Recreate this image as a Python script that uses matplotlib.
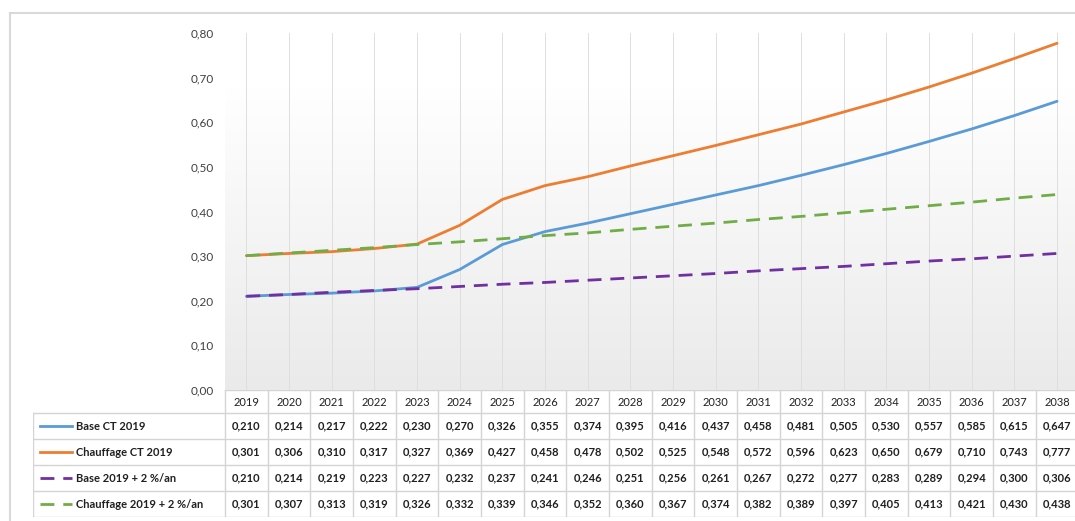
import numpy as np
import matplotlib
matplotlib.use("Agg")
import matplotlib.pyplot as plt
from matplotlib.colors import LinearSegmentedColormap

# ----------------------------
# Data (read from the data table)
# ----------------------------
years = [str(y) for y in range(2019, 2039)]

base_ct = [0.210, 0.214, 0.217, 0.222, 0.230, 0.270, 0.326, 0.355, 0.374, 0.395,
           0.416, 0.437, 0.458, 0.481, 0.505, 0.530, 0.557, 0.585, 0.615, 0.647]
chauffage_ct = [0.301, 0.306, 0.310, 0.317, 0.327, 0.369, 0.427, 0.458, 0.478, 0.502,
                0.525, 0.548, 0.572, 0.596, 0.623, 0.650, 0.679, 0.710, 0.743, 0.777]
base_2pct = [0.210, 0.214, 0.219, 0.223, 0.227, 0.232, 0.237, 0.241, 0.246, 0.251,
             0.256, 0.261, 0.267, 0.272, 0.277, 0.283, 0.289, 0.294, 0.300, 0.306]
chauffage_2pct = [0.301, 0.307, 0.313, 0.319, 0.326, 0.332, 0.339, 0.346, 0.352, 0.360,
                  0.367, 0.374, 0.382, 0.389, 0.397, 0.405, 0.413, 0.421, 0.430, 0.438]

series_labels = ["Base CT 2019", "Chauffage CT 2019",
                 "Base 2019 + 2 %/an", "Chauffage 2019 + 2 %/an"]
series_values = [base_ct, chauffage_ct, base_2pct, chauffage_2pct]
series_colors = ["#5B9BD5", "#ED7D31", "#7030A0", "#70AD47"]
series_styles = ["-", "-", (0, (5, 3.2)), (0, (5, 3.2))]

y_ticks = [0.0, 0.1, 0.2, 0.3, 0.4, 0.5, 0.6, 0.7, 0.8]

plt.rcParams['font.family'] = ['Lato', 'DejaVu Sans']

# ----------------------------
# Figure geometry (pixels)
# ----------------------------
W, H = 1075, 521
fig = plt.figure(figsize=(W / 100, H / 100), dpi=100)

plot_left, plot_right = 225, 1075
plot_top, plot_bottom = 33, 390
tab_left, tab_bottom = 33, 517

x = np.arange(len(years))
px_per_unit = 42.67
x_min = -0.5
x_max = x_min + (plot_right - plot_left) / px_per_unit

ax = fig.add_axes([plot_left / W, 1 - plot_bottom / H,
                   (plot_right - plot_left) / W, (plot_bottom - plot_top) / H])

# background gradient
grad = np.linspace(0, 1, 256).reshape(-1, 1)
cmap = LinearSegmentedColormap.from_list("bg", [(0, "#eaeaea"), (0.85, "#ffffff"), (1, "#ffffff")])
ax.imshow(grad, extent=[x_min, x_max, 0, 0.8], origin="lower", aspect="auto",
          cmap=cmap, zorder=0)

# vertical gridlines at category centers
for xi in x:
    ax.axvline(xi, color="#dedede", lw=0.7, zorder=1)

for vals, col, ls in zip(series_values, series_colors, series_styles):
    ax.plot(x, vals, color=col, lw=2.0, linestyle=ls, zorder=3, clip_on=False,
            solid_capstyle="round")

ax.set_xlim(x_min, x_max)
ax.set_ylim(0, 0.8)
ax.set_yticks(y_ticks)
ax.set_yticklabels([f"{t:.2f}".replace(".", ",") for t in y_ticks])
ax.set_xticks([])
ax.tick_params(axis="y", length=0, pad=8, labelsize=8.5, labelcolor="#404040")
for s in ax.spines.values():
    s.set_visible(False)

# ----------------------------
# Data table below the plot
# ----------------------------
tab_x_min = x_min - (plot_left - tab_left) / px_per_unit
tab = fig.add_axes([tab_left / W, 1 - tab_bottom / H,
                    (plot_right - tab_left) / W, (tab_bottom - plot_bottom) / H])
tab.set_xlim(tab_x_min, x_max)
row_edges = [0, 0.9, 1.9, 2.9, 3.9, 4.9]
tab.set_ylim(row_edges[-1], 0)
tab.axis("off")

grid_c = "#d4d4d4"
# horizontal lines
tab.plot([x_min, x_max], [0, 0], color=grid_c, lw=1.0)
for r in row_edges[1:]:
    tab.plot([tab_x_min, x_max], [r, r], color=grid_c, lw=1.0)
# vertical lines
tab.plot([tab_x_min, tab_x_min], [row_edges[1], row_edges[-1]], color=grid_c, lw=1.0)
for k in range(len(years) + 1):
    tab.plot([x_min + k, x_min + k], [0, row_edges[-1]], color=grid_c, lw=1.0)

# header years
for xi, yr in zip(x, years):
    tab.text(xi, row_edges[0] + 0.5, yr, ha="center", va="center",
             fontsize=8, color="#202020")

# rows with legend keys and values
key_x0 = tab_x_min + 7 / px_per_unit
key_x1 = tab_x_min + 39 / px_per_unit
for i, (lab, vals, col, ls) in enumerate(zip(series_labels, series_values,
                                             series_colors, series_styles)):
    yc = (row_edges[i + 1] + row_edges[i + 2]) / 2
    tab.plot([key_x0, key_x1], [yc, yc], color=col, lw=2.0, linestyle=ls)
    tab.text(key_x1 + 4 / px_per_unit, yc, lab, ha="left", va="center",
             fontsize=8, fontweight="bold", color="#202020")
    for xi, v in zip(x, vals):
        tab.text(xi, yc, f"{v:.3f}".replace(".", ","), ha="center", va="center",
                 fontsize=8, fontweight="bold", color="#202020")

# outer chart border
fig.add_artist(plt.Line2D([10 / W, 1], [1 - 13 / H, 1 - 13 / H],
                          transform=fig.transFigure, color="#d9d9d9", lw=1.5))
fig.add_artist(plt.Line2D([10 / W, 10 / W], [1 - 13 / H, 0],
                          transform=fig.transFigure, color="#d9d9d9", lw=1.5))

fig.savefig("out.png", dpi=100, facecolor="white")
